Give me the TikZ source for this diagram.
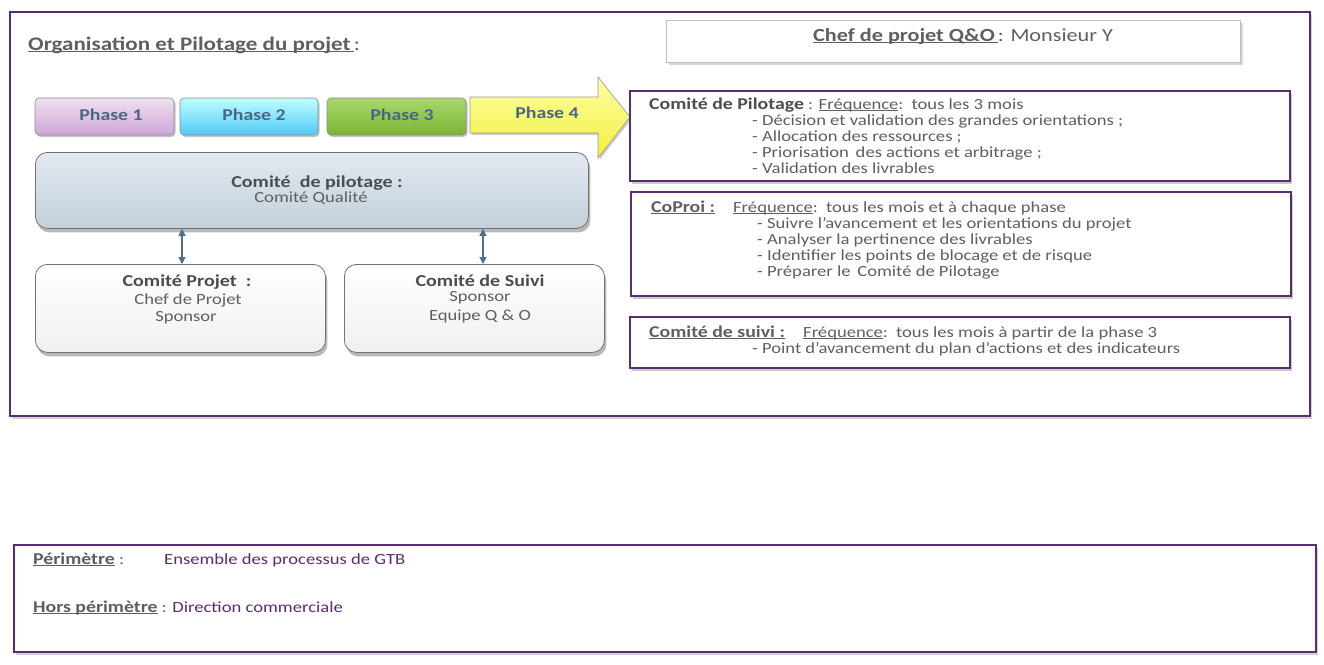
\documentclass[tikz,border=0pt]{standalone}
\usepackage{fontspec}
\setmainfont{Carlito}[FakeStretch=1.2]
\usetikzlibrary{shadows,arrows.meta}
\newcommand\myul[1]{\leavevmode\setbox0\hbox{#1}\rlap{\rule[-2.4pt]{\wd0}{1pt}}\box0}
\newcommand\hb[1]{{\fontsize{16.5}{16}\selectfont\bfseries #1}}
\definecolor{frame}{HTML}{5B2C72}
\definecolor{txt}{HTML}{5F5F5F}
\definecolor{hdr}{HTML}{4D4D4D}
\definecolor{phtxt}{HTML}{4B6584}
\definecolor{arr}{HTML}{4F6F8A}
\definecolor{pilfill}{HTML}{D5E1EB}
\tikzset{
  outer/.style={draw=frame,line width=1.6pt,fill=white,drop shadow={shadow xshift=2pt,shadow yshift=-3pt,fill=black!35}},
  infobox/.style={draw=frame,line width=1.6pt,fill=white,drop shadow={shadow xshift=2pt,shadow yshift=-3pt,fill=black!40}},
  chefbox/.style={draw=black!25,line width=1pt,fill=white,drop shadow={shadow xshift=3pt,shadow yshift=-3pt,fill=black!30}},
  phase/.style={rounded corners=4pt,draw=black!45,line width=0.6pt,drop shadow={shadow xshift=1.5pt,shadow yshift=-2pt,fill=black!45}},
  comite/.style={rounded corners=12pt,draw=black!55,line width=0.8pt,drop shadow={shadow xshift=2pt,shadow yshift=-4pt,fill=black!55}},
  lbl/.style={anchor=base west,inner sep=0pt,text=txt,font=\fontsize{15.5}{16}\selectfont},
  clbl/.style={inner sep=0pt,text=txt,font=\fontsize{15.5}{16}\selectfont},
  hlbl/.style={inner sep=0pt,text=hdr,font=\fontsize{16.7}{17}\selectfont\bfseries},
  phlbl/.style={inner sep=0pt,text=phtxt,font=\fontsize{16.5}{17}\selectfont\bfseries},
  dbl/.style={{Triangle[length=7pt,width=7pt]}-{Triangle[length=7pt,width=7pt]},draw=arr,line width=1.2pt},
}
\begin{document}
\begin{tikzpicture}[x=1pt,y=-1pt]
\path[use as bounding box,fill=white] (0,0) rectangle (1324,664);
% outer frames
\path[outer] (10,12) rectangle (1310,416);
\path[outer] (14,545) rectangle (1316,652);
% title
\node[lbl,font=\fontsize{19.2}{19}\selectfont] (title) at (28,50) {\textbf{\myul{Organisation et Pilotage du projet\,}}:};
% chef box
\path[chefbox] (666,20) rectangle (1240,62);
\node[lbl,font=\fontsize{18.5}{19}\selectfont] (chef) at (813,41) {\textbf{\myul{Chef de projet Q\&O\,}}: Monsieur Y};
% phases
\shade[phase,top color=violet!12,bottom color={rgb,255:red,205;green,165;blue,215}] (35,98) rectangle (174,135);
\shade[phase,top color=cyan!25,bottom color={rgb,255:red,80;green,200;blue,245}] (180,98) rectangle (318,135);
\shade[phase,top color={rgb,255:red,170;green,215;blue,110},bottom color={rgb,255:red,125;green,180;blue,50}] (327,98) rectangle (466,135);
\shade[draw=black!40,line width=0.6pt,top color=yellow!35,bottom color={rgb,255:red,240;green,240;blue,60},drop shadow={shadow xshift=1.5pt,shadow yshift=-2pt,fill=black!40}]
  (470,97) -- (598,97) -- (598,77) -- (630,117) -- (598,158) -- (598,133) -- (470,133) -- cycle;
\node[phlbl] (p1) at (111,115) {Phase 1};
\node[phlbl] (p2) at (254,115) {Phase 2};
\node[phlbl] (p3) at (402,115) {Phase 3};
\node[phlbl] (p4) at (547,113) {Phase 4};
% comite de pilotage
\node[comite,minimum width=553pt,minimum height=76pt,top color=pilfill!70!white,bottom color=pilfill!92!black,anchor=north west,inner sep=0pt] (pil) at (35,152) {};
\node[hlbl] (pilt) at (317,183) {Comité \ de pilotage :};
\node[clbl] (pilq) at (311,198) {Comité Qualité};
% bottom committees
\node[comite,minimum width=290pt,minimum height=88pt,top color=white,bottom color=black!6,anchor=north west,inner sep=0pt] (proj) at (35,264) {};
\node[comite,minimum width=260pt,minimum height=88pt,top color=white,bottom color=black!6,anchor=north west,inner sep=0pt] (suivi) at (344,264) {};
\node[hlbl] (projt) at (187,282) {Comité Projet \ :};
\node[clbl] (proj1) at (188,300) {Chef de Projet};
\node[clbl] (proj2) at (186,318) {Sponsor};
\node[hlbl] (suivit) at (480,281) {Comité de Suivi};
\node[clbl] (suivi1) at (480,298) {Sponsor};
\node[clbl] (suivi2) at (480,316) {Equipe Q \& O};
\draw[dbl] (pil.south -| 182,0) -- (proj.north -| 182,0);
\draw[dbl] (pil.south -| 483,0) -- (suivi.north -| 483,0);
% right boxes
\path[infobox] (630,91) rectangle (1290,181);
\path[infobox] (631,192) rectangle (1291,296);
\path[infobox] (630,317) rectangle (1290,368);
\node[lbl] (c1) at (649,109) {\textcolor{hdr}{\hb{Comité de Pilotage}} : \myul{Fréquence} : \,tous les 3 mois};
\node[lbl] (c1a) at (752,125) {- Décision et validation des grandes orientations ;};
\node[lbl] (c1b) at (752,141) {- Allocation des ressources ;};
\node[lbl] (c1c) at (752,157) {- Priorisation \,des actions et arbitrage ;};
\node[lbl] (c1d) at (752,173) {- Validation des livrables};
\node[lbl] (c2) at (651,212) {\hb{\myul{CoProi :}}};
\node[lbl] (c2f) at (733,212) {\myul{Fréquence} : \,tous les mois et à chaque phase};
\node[lbl] (c2a) at (757,228) {- Suivre l’avancement et les orientations du projet};
\node[lbl] (c2b) at (757,244) {- Analyser la pertinence des livrables};
\node[lbl] (c2c) at (757,260) {- Identifier les points de blocage et de risque};
\node[lbl] (c2d) at (757,276) {- Préparer le \,Comité de Pilotage};
\node[lbl] (c3) at (649,337) {\hb{\myul{Comité de suivi :}}};
\node[lbl] (c3f) at (803,337) {\myul{Fréquence} : \,tous les mois à partir de la phase 3};
\node[lbl] (c3a) at (752,353) {- Point d’avancement du plan d’actions et des indicateurs};
% bottom frame texts
\node[lbl] (per) at (33,564) {\hb{\myul{Périmètre}} :};
\node[lbl,text=frame] (perv) at (164,564) {Ensemble des processus de GTB};
\node[lbl] (hors) at (33,612) {\hb{\myul{Hors périmètre}} : \textcolor{frame}{Direction commerciale}};
\end{tikzpicture}
\end{document}
